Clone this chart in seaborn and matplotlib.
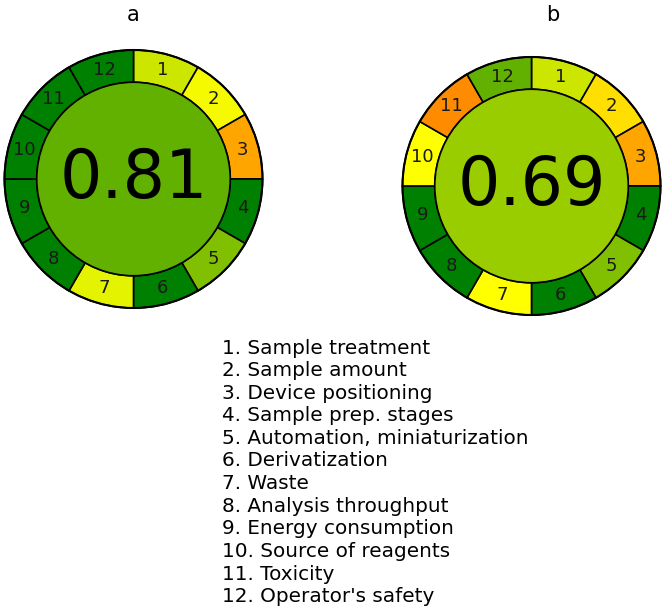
import math
import matplotlib
matplotlib.use("Agg")
import matplotlib.pyplot as plt
import seaborn as sns

sns.set_theme(style="white")
plt.rcParams['font.family'] = ['DejaVu Sans']
plt.rcParams['text.color'] = 'black'

criteria = ["Sample treatment", "Sample amount", "Device positioning",
            "Sample prep. stages", "Automation, miniaturization", "Derivatization",
            "Waste", "Analysis throughput", "Energy consumption",
            "Source of reagents", "Toxicity", "Operator's safety"]
panel_labels = ["a", "b"]
total_scores = [0.81, 0.69]
center_colors = ["#62b100", "#9acd00"]
segment_colors_a = ["#cde600", "#f5fa00", "#ffa500", "#008000", "#80c000", "#008000",
                    "#e4f400", "#008000", "#008000", "#008000", "#008000", "#008000"]
segment_colors_b = ["#cde600", "#ffdf00", "#ffa500", "#008000", "#80c000", "#008000",
                    "#ffff00", "#008000", "#008000", "#ffff00", "#ff8c00", "#62b100"]
segment_colors = [segment_colors_a, segment_colors_b]

W, H = 669, 609
fig = plt.figure(figsize=(W / 100, H / 100), dpi=100)

centers_px = [(133.5, 179.0), (531.5, 186.0)]
radius_px = 129.0
title_px = [(133, 15), (553, 15)]
r_in = 0.75
lim = 1.1

n = len(criteria)
for k in range(2):
    cx, cy = centers_px[k]
    half = radius_px * lim
    ax = fig.add_axes([(cx - half) / W, (H - cy - half) / H, 2 * half / W, 2 * half / H])
    ax.pie([1] * n, colors=segment_colors[k], startangle=90, counterclock=False,
           radius=1.0, wedgeprops=dict(width=1 - r_in, edgecolor='black', linewidth=1.2))
    circ = plt.Circle((0, 0), r_in, facecolor=center_colors[k], edgecolor='black',
                      linewidth=1.2, zorder=3)
    ax.add_patch(circ)
    outer = plt.Circle((0, 0), 1.0, facecolor='none', edgecolor='black', linewidth=1.5, zorder=4)
    ax.add_patch(outer)
    ax.set_xlim(-lim, lim)
    ax.set_ylim(-lim, lim)
    ax.set_aspect('equal')
    ax.axis('off')
    rm = (1 + r_in) / 2
    for i in range(n):
        ang = math.radians(90 - (i + 0.5) * 360 / n)
        ax.text(rm * math.cos(ang), rm * math.sin(ang), str(i + 1), ha='center', va='center',
                fontsize=13, color='#1a1a1a', zorder=5)
    ax.text(0, 0.0, f"{total_scores[k]:.2f}", ha='center', va='center', fontsize=48,
            color='black', zorder=5)
    tx, ty = title_px[k]
    fig.text(tx / W, 1 - ty / H, panel_labels[k], ha='center', va='center', fontsize=15)

legend_x = 222
legend_y0 = 348
legend_dy = 22.6
for i, c in enumerate(criteria):
    fig.text(legend_x / W, 1 - (legend_y0 + i * legend_dy) / H, f"{i + 1}. {c}",
             ha='left', va='center', fontsize=14.4)

fig.savefig("out.png", dpi=100, facecolor='white')
